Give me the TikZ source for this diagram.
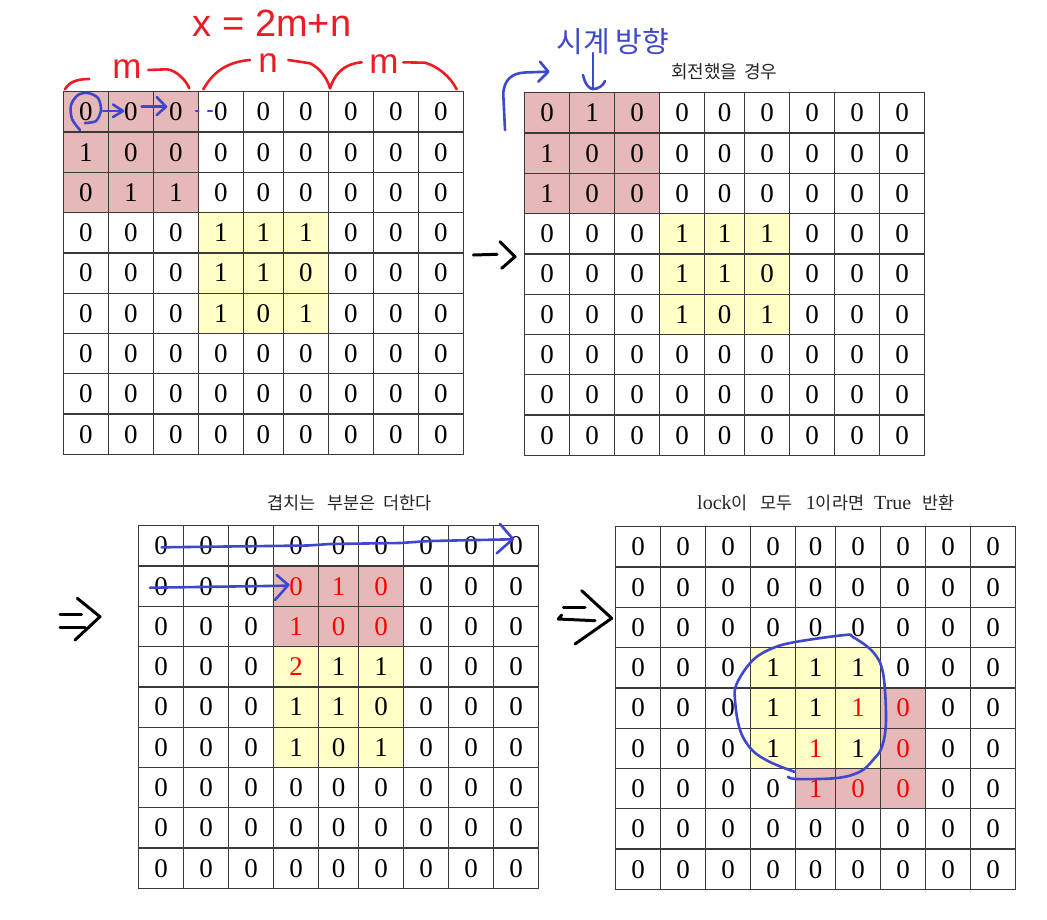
\documentclass[tikz,border=0pt]{standalone}
\usepackage{fontspec}
\setmainfont{Liberation Serif}
\newfontfamily\kr{Noto Sans CJK KR}
\newfontfamily\handfont{Liberation Sans}
\definecolor{pinkc}{HTML}{E6B8B7}
\definecolor{yelc}{HTML}{FFFFC6}
\definecolor{gridc}{HTML}{3A3A3A}
\definecolor{penblue}{HTML}{3F48CC}
\definecolor{penred}{HTML}{ED1C24}
\def\colL{{0,45,90,135,180,220,265,310,355}}
\def\colR{{45,90,135,180,220,265,310,355,400}}
\def\myrh{40.3}
\newcommand\redd[1]{\textcolor{red}{#1}}
\newcommand\lat[1]{{\rmfamily\fontsize{20}{20}\selectfont #1}}
% block fill: x0 y0 r1 c1 r2 c2 colour
\newcommand\blockfill[7]{%
  \pgfmathsetmacro\xa{#1+\colL[#4-1]}%
  \pgfmathsetmacro\xb{#1+\colR[#6-1]}%
  \fill[#7] (\xa,#2+#3*\myrh-\myrh) rectangle (\xb,#2+#5*\myrh);}
% grid lines: x0 y0
\newcommand\gridlines[2]{%
  \foreach \r in {0,...,9} \draw[gline] (#1,#2+\r*\myrh) -- (#1+400,#2+\r*\myrh);
  \foreach \xx in {0,45,90,135,180,220,265,310,355,400} \draw[gline] (#1+\xx,#2) -- (#1+\xx,#2+9*\myrh);}
% cell values: name x0 y0 rows
\newcommand\gridvals[4]{%
  \foreach \rowv [count=\r] in {#4} {
    \foreach \v [count=\c] in \rowv {
      \pgfmathsetmacro\xc{#2+(\colL[\c-1]+\colR[\c-1])/2}
      \pgfmathsetmacro\yc{#3+(\r-0.5)*\myrh}
      \node[cell] (#1-\r-\c) at (\xc,\yc) {\v};
    }
  }}
\begin{document}
\begin{tikzpicture}[x=1pt,y=-1pt,
  cell/.style={font=\fontsize{27}{27}\selectfont, inner sep=0pt},
  gline/.style={draw=gridc, line width=1.3pt, line cap=rect},
  pen/.style={line width=2.6pt, line cap=round, line join=round},
  blackpen/.style={pen, draw=black, line width=3pt},
  bluepen/.style={pen, draw=penblue},
  redpen/.style={pen, draw=penred},
  caption/.style={font=\kr\fontsize{17.5}{20}\selectfont, text=black!85, inner sep=0pt, anchor=west},
  hand/.style={font=\handfont\fontsize{35}{35}\selectfont, text=penred, inner sep=0pt, anchor=base},
]
\useasboundingbox (0,0) rectangle (1047,919);
\fill[white] (0,0) rectangle (1047,919);

% ---------- fills ----------
\blockfill{63.3}{91.7}{1}{1}{3}{3}{pinkc}
\blockfill{63.3}{91.7}{4}{4}{6}{6}{yelc}
\blockfill{524.5}{92.7}{1}{1}{3}{3}{pinkc}
\blockfill{524.5}{92.7}{4}{4}{6}{6}{yelc}
\blockfill{138.7}{525.7}{2}{4}{3}{6}{pinkc}
\blockfill{138.7}{525.7}{4}{4}{6}{6}{yelc}
\blockfill{615.7}{526.7}{4}{4}{6}{6}{yelc}
\blockfill{615.7}{526.7}{5}{7}{6}{7}{pinkc}
\blockfill{615.7}{526.7}{7}{5}{7}{7}{pinkc}

% ---------- grid lines ----------
\gridlines{63.3}{91.7}
\gridlines{524.5}{92.7}
\gridlines{138.7}{525.7}
\gridlines{615.7}{526.7}

% ---------- values ----------
\gridvals{ga}{63.3}{91.7}{{0,0,0,0,0,0,0,0,0},{1,0,0,0,0,0,0,0,0},{0,1,1,0,0,0,0,0,0},{0,0,0,1,1,1,0,0,0},{0,0,0,1,1,0,0,0,0},{0,0,0,1,0,1,0,0,0},{0,0,0,0,0,0,0,0,0},{0,0,0,0,0,0,0,0,0},{0,0,0,0,0,0,0,0,0}}
\gridvals{gb}{524.5}{92.7}{{0,1,0,0,0,0,0,0,0},{1,0,0,0,0,0,0,0,0},{1,0,0,0,0,0,0,0,0},{0,0,0,1,1,1,0,0,0},{0,0,0,1,1,0,0,0,0},{0,0,0,1,0,1,0,0,0},{0,0,0,0,0,0,0,0,0},{0,0,0,0,0,0,0,0,0},{0,0,0,0,0,0,0,0,0}}
\gridvals{gc}{138.7}{525.7}{{0,0,0,0,0,0,0,0,0},{0,0,0,\redd0,\redd1,\redd0,0,0,0},{0,0,0,\redd1,\redd0,\redd0,0,0,0},{0,0,0,\redd2,1,1,0,0,0},{0,0,0,1,1,0,0,0,0},{0,0,0,1,0,1,0,0,0},{0,0,0,0,0,0,0,0,0},{0,0,0,0,0,0,0,0,0},{0,0,0,0,0,0,0,0,0}}
\gridvals{gd}{615.7}{526.7}{{0,0,0,0,0,0,0,0,0},{0,0,0,0,0,0,0,0,0},{0,0,0,0,0,0,0,0,0},{0,0,0,1,1,1,0,0,0},{0,0,0,1,1,\redd1,\redd0,0,0},{0,0,0,1,\redd1,1,\redd0,0,0},{0,0,0,0,\redd1,\redd0,\redd0,0,0},{0,0,0,0,0,0,0,0,0},{0,0,0,0,0,0,0,0,0}}

% ---------- captions ----------
\node[caption, font=\kr\fontsize{18}{20}\selectfont] (capb) at (671,72) {회전했을\hspace{7pt}경우};
\node[caption] (capc) at (267,503) {겹치는\hspace{12pt}부분은\hspace{8pt}더한다};
\node[caption] (capd) at (697,503) {\lat{lock}이\hspace{13pt}모두\hspace{13pt}\lat{1}이라면\hspace{10pt}\lat{True}\hspace{11pt}반환};

% ---------- red handwriting (grid 1) ----------
\node[hand, font=\handfont\fontsize{38}{38}\selectfont] (formula) at (272,36) {x = 2m+n};
\node[hand] (mleft) at (127,78) {m};
\node[hand] (nmid) at (268,72) {n};
\node[hand] (mright) at (384,73) {m};
\draw[redpen] (65,89.3) .. controls (69,82) and (77,79) .. (89.3,79);
\draw[redpen] (148.3,70) -- (166.7,69.3) .. controls (176,70) and (186,80) .. (189.3,88.3);
\draw[redpen] (203.3,89.3) .. controls (212,74) and (225,62) .. (250,60);
\draw[redpen] (288.3,60) -- (310,63.3) .. controls (320,68) and (327,78) .. (330,88.3)
  .. controls (334,76) and (342,64) .. (361.7,62.3);
\draw[redpen] (403.3,62.3) -- (425,62.7) .. controls (437,66) and (450,76) .. (456.7,89.3);

% ---------- blue marks (grid 1) ----------
\draw[bluepen] plot[smooth] coordinates {(80,130) (72,119) (71,105) (78,95) (88,93) (98,98) (101,110) (96,121) (85,123)};
\draw[bluepen] (103,111) -- (123,111);
\draw[bluepen] (113,104.5) -- (123,111) -- (113,117);
\draw[bluepen] (141.7,106.7) -- (165,106.7);
\draw[bluepen] (156.7,97) -- (166,106.7) -- (156.7,115);
\draw[bluepen] (196,111) -- (198.5,111);
\draw[bluepen] (208,111) -- (212,111);

% ---------- blue marks (grid 2) ----------
\node[font=\kr\fontsize{29}{29}\selectfont, text=penblue, inner sep=0pt] (cw) at (613,42) {시계\hspace{6pt}방향};
\draw[bluepen] (593,53) -- (593,88);
\draw[bluepen] (583,75) .. controls (585,84) and (589,89) .. (593,89) .. controls (598,89) and (603,86) .. (605,81);
\draw[bluepen] (505,130) -- (503.3,95) .. controls (503.3,80) and (512,73) .. (525,72.5) -- (546.7,71.7);
\draw[bluepen] (540,61.7) -- (548.3,71.7) -- (538.3,81.7);

% ---------- black arrows between grids ----------
\coordinate (arA) at (473.3,255);
\draw[blackpen] (arA) -- (497,254.3);
\draw[blackpen] (500,241.7) -- (515,256.7) -- (501.7,268.3);
\coordinate (arB) at (60,614.3);
\draw[blackpen] (arB) -- (81.7,614.3);
\draw[blackpen] (60,627.7) -- (85,627.7);
\draw[blackpen] (77.3,598.3) -- (100,616.7) -- (75,640);
\coordinate (arC) at (563.3,607.3);
\draw[blackpen] (arC) -- (585,607.3);
\draw[blackpen] (561.7,615) -- (558.3,619) -- (595,620.7);
\draw[blackpen] (581.7,590.7) -- (611.7,618.3) -- (575,644);

% ---------- blue marks (grid 3) ----------
\draw[bluepen] (161.7,547.3) -- (308,545.5) -- (330,544) -- (400,543) -- (430,541) -- (511.7,539.3);
\draw[bluepen] (500,524) -- (513,539) -- (496.7,553.3);
\draw[bluepen] (150,587.7) -- (286.7,585.7);
\draw[bluepen] (276.7,575) -- (288.3,585) -- (275,600);

% ---------- blue loop (grid 4) ----------
\draw[bluepen] plot[smooth, tension=0.6] coordinates {(788,776.7) (797,779) (837,778) (860,771.7) (873,760) (882,746.7) (886,720) (883,673) (873,652) (853,637) (845,635) (797,641.7) (773,648) (753,660) (737,683) (735,700) (740,730) (752,750) (770,762) (795,772)};
\end{tikzpicture}
\end{document}
